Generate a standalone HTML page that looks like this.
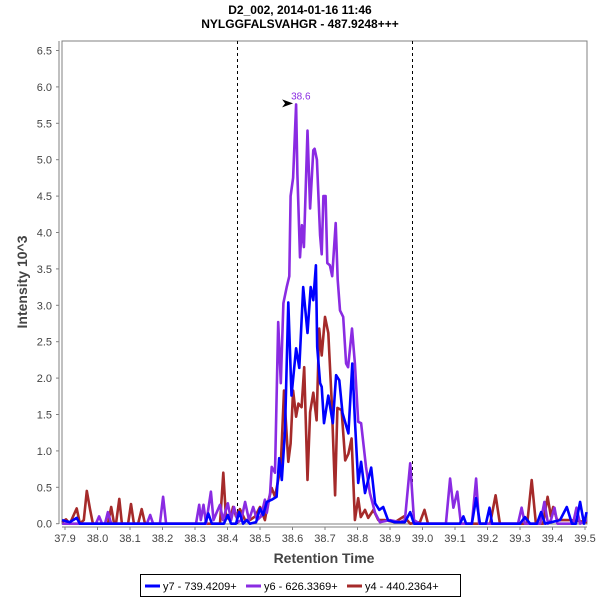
<!DOCTYPE html>
<html><head><meta charset="utf-8"><style>
body{margin:0;background:#fff;}
svg text{font-family:"Liberation Sans",sans-serif;}
</style></head><body>
<svg id="chart" width="600" height="600" viewBox="0 0 600 600">
<rect width="600" height="600" fill="#fff"/>
<text x="300" y="14" text-anchor="middle" font-size="12" font-weight="bold" fill="#000">D2_002, 2014-01-16 11:46</text>
<text x="300" y="28" text-anchor="middle" font-size="12" font-weight="bold" fill="#000">NYLGGFALSVAHGR - 487.9248+++</text>
<rect x="62" y="41" width="525" height="483" fill="#fff" stroke="#808080" stroke-width="1"/>
<g id="axes"></g>
<g id="series"></g>
<text transform="translate(27,282) rotate(-90)" text-anchor="middle" font-size="14" font-weight="bold" fill="#444">Intensity 10^3</text>
<text x="324" y="563" text-anchor="middle" font-size="14" font-weight="bold" fill="#444">Retention Time</text>
<g>
<rect x="140.5" y="574.5" width="320" height="22" fill="#fff" stroke="#000"/>
<g><line x1="145" y1="586" x2="160" y2="586" stroke="#0000ff" stroke-width="3"/><text x="163" y="590" font-size="11" fill="#000">y7 - 739.4209+</text></g>
<g><line x1="246" y1="586" x2="261" y2="586" stroke="#8a2be2" stroke-width="3"/><text x="264" y="590" font-size="11" fill="#000">y6 - 626.3369+</text></g>
<g><line x1="347" y1="586" x2="362" y2="586" stroke="#a52a2a" stroke-width="3"/><text x="365" y="590" font-size="11" fill="#000">y4 - 440.2364+</text></g>
</g>
</svg>
<script>
const xTicks=[37.9,38.0,38.1,38.2,38.3,38.4,38.5,38.6,38.7,38.8,38.9,39.0,39.1,39.2,39.3,39.4,39.5];
const yTicks=[0,0.5,1,1.5,2,2.5,3,3.5,4,4.5,5,5.5,6,6.5];
const boundaryTimes=[38.43,38.967];
const peakTime=38.611, peakValue=5.76, peakLabel="38.6";
const y7Times=[37.891,37.915,37.925,37.936,37.946,38.331,38.341,38.352,38.389,38.401,38.411,38.426,38.436,38.448,38.459,38.469,38.488,38.5,38.51,38.521,38.536,38.551,38.559,38.567,38.577,38.587,38.597,38.611,38.621,38.633,38.646,38.656,38.664,38.672,38.676,38.685,38.69,38.697,38.71,38.724,38.734,38.744,38.754,38.772,38.784,38.792,38.802,38.811,38.823,38.842,38.854,38.867,38.879,38.894,38.915,38.946,38.962,38.974,39.115,39.126,39.134,39.152,39.165,39.177,39.195,39.206,39.214,39.3,39.315,39.331,39.352,39.365,39.377,39.423,39.444,39.46,39.472,39.485,39.497,39.505];
const y7Values=[0.05,0.02,0.05,0.08,0,0,0.14,0,0,0.12,0,0,0.16,0,0.05,0,0.02,0.21,0.12,0.3,0.33,0.37,0.9,0.6,1.28,3.04,1.76,2.41,2.14,3.25,2.62,3.25,3.07,3.55,2.43,1.93,1.88,1.38,1.76,1.38,2.04,1.97,1.52,1.24,2.2,1.42,0.56,0.85,0.42,0.77,0.28,0.19,0.23,0.05,0.02,0.02,0.16,0,0,0.1,0,0,0.35,0,0,0.22,0,0,0.09,0,0,0.16,0,0.05,0.23,0,0,0.3,0,0.16];
const y6Times=[37.891,37.995,38.005,38.014,38.023,38.032,38.042,38.152,38.162,38.171,38.192,38.202,38.211,38.303,38.313,38.318,38.326,38.334,38.349,38.357,38.367,38.377,38.386,38.401,38.411,38.42,38.432,38.442,38.454,38.466,38.479,38.491,38.503,38.515,38.521,38.531,38.536,38.546,38.556,38.564,38.572,38.582,38.59,38.594,38.602,38.611,38.615,38.623,38.629,38.635,38.646,38.654,38.664,38.668,38.675,38.685,38.69,38.695,38.702,38.707,38.715,38.722,38.733,38.739,38.746,38.756,38.765,38.771,38.783,38.792,38.802,38.811,38.826,38.838,38.854,38.869,38.9,38.931,38.946,38.962,38.974,38.992,39.072,39.085,39.095,39.107,39.118,39.152,39.165,39.174,39.294,39.305,39.315,39.362,39.375,39.386,39.395,39.406,39.415,39.463,39.474,39.485,39.506];
const y6Values=[0,0,0.1,0,0,0.16,0,0,0.12,0,0,0.37,0,0,0.26,0.05,0.26,0,0.44,0.05,0.16,0.26,0.05,0.28,0.05,0.23,0.02,0.05,0.3,0.05,0.23,0.05,0.1,0.33,0.15,0.42,0.78,0.7,2.77,1.93,3.03,3.25,3.4,4.5,4.75,5.76,4.8,3.66,4.1,3.8,5.4,4.33,5.13,5.15,5.0,3.96,3.7,4.5,4.5,3.58,3.55,3.4,4.13,3.35,2.93,2.84,2.2,2.15,2.68,2.2,1.4,1.38,0.78,0.42,0.15,0.02,0.05,0.02,0.05,0.83,0.05,0,0,0.62,0.22,0.44,0,0,0.62,0,0,0.22,0,0,0.3,0,0.05,0.22,0,0,0.22,0,0.05];
const y4Times=[37.891,37.903,37.915,37.925,37.936,37.946,37.958,37.967,37.977,37.986,38.032,38.042,38.051,38.057,38.067,38.075,38.094,38.103,38.112,38.125,38.136,38.146,38.377,38.387,38.395,38.408,38.417,38.426,38.438,38.454,38.469,38.485,38.5,38.515,38.525,38.536,38.546,38.556,38.564,38.574,38.587,38.594,38.602,38.611,38.618,38.628,38.636,38.646,38.654,38.664,38.674,38.682,38.69,38.7,38.71,38.721,38.731,38.738,38.751,38.762,38.772,38.782,38.792,38.802,38.81,38.823,38.833,38.849,38.864,38.885,38.915,38.943,38.962,38.992,39.006,39.017,39.208,39.225,39.238,39.322,39.336,39.349,39.371,39.385,39.395,39.402,39.414,39.454,39.506];
const y4Values=[0.02,0.06,0,0.1,0.21,0,0.05,0.45,0.2,0,0,0.23,0,0,0.34,0,0,0.27,0,0,0.2,0,0,0.7,0.1,0.05,0.23,0.1,0.2,0.05,0.05,0.1,0.23,0.05,0.3,0.49,0.37,0.6,0.8,1.83,0.85,1.1,1.83,1.47,1.65,1.6,2.15,0.6,1.53,1.8,1.42,2.68,2.31,2.84,2.62,1.65,0.39,1.59,1.56,0.87,0.96,1.17,0.05,0.35,0.09,0.19,0.08,0.19,0.05,0.05,0.02,0.1,0,0.02,0.19,0,0,0.39,0,0,0.6,0,0,0.37,0.1,0.23,0.05,0.05,0.02];

const NS='http://www.w3.org/2000/svg';
const xScale=t=>65+(t-37.9)*325;
const yScale=v=>523.7-v*72.8;
const axes=document.getElementById('axes');
const series=document.getElementById('series');
function mk(tag,attrs,parent){const e=document.createElementNS(NS,tag);for(const k in attrs)e.setAttribute(k,attrs[k]);parent.appendChild(e);return e;}
const yl=mk('line',{x1:59,y1:41,x2:59,y2:524,stroke:'#808080'},axes);


const xl=mk('line',{x1:62,y1:527,x2:587,y2:527,stroke:'#808080'},axes);


yTicks.forEach(v=>{const y=yScale(v);
 mk('line',{x1:56,y1:y,x2:59,y2:y,stroke:'#808080'},axes);
 const t=mk('text',{x:52,y:y+4,'text-anchor':'end','font-size':11,fill:'#444'},axes);
 t.textContent=v.toFixed(1);
 
 });
xTicks.forEach(v=>{const x=xScale(v);
 mk('line',{x1:x,y1:527,x2:x,y2:530,stroke:'#808080'},axes);
 const t=mk('text',{x:x,y:542,'text-anchor':'middle','font-size':11,fill:'#444'},axes);
 t.textContent=v.toFixed(1);
 
 });
boundaryTimes.forEach(b=>{const x=Math.round(xScale(b))+0.5;
 const l=mk('line',{x1:x,y1:41,x2:x,y2:524,stroke:'#000','stroke-dasharray':'3,3'},series);
 
 });
function line(ts,vs,color,name){
 const pts=ts.map((t,i)=>xScale(t).toFixed(1)+','+yScale(vs[i]).toFixed(1)).join(' ');
 const p=mk('polyline',{points:pts,fill:'none',stroke:color,'stroke-width':2.6,'stroke-linejoin':'round'},series);
 
 }
line(y4Times,y4Values,'#a52a2a','series-y4');
line(y6Times,y6Values,'#8a2be2','series-y6');
line(y7Times,y7Values,'#0000ff','series-y7');
const px=xScale(peakTime), py=yScale(peakValue);
const ar=mk('polygon',{points:`${px-14},${py-5} ${px-3},${py-1} ${px-14},${py+3} ${px-11},${py-1}`,fill:'#000'},series);


const pl=mk('text',{x:px-5,y:py-5,'font-size':10,fill:'#8a2be2'},series);
pl.textContent=peakLabel;


</script>
</body></html>
